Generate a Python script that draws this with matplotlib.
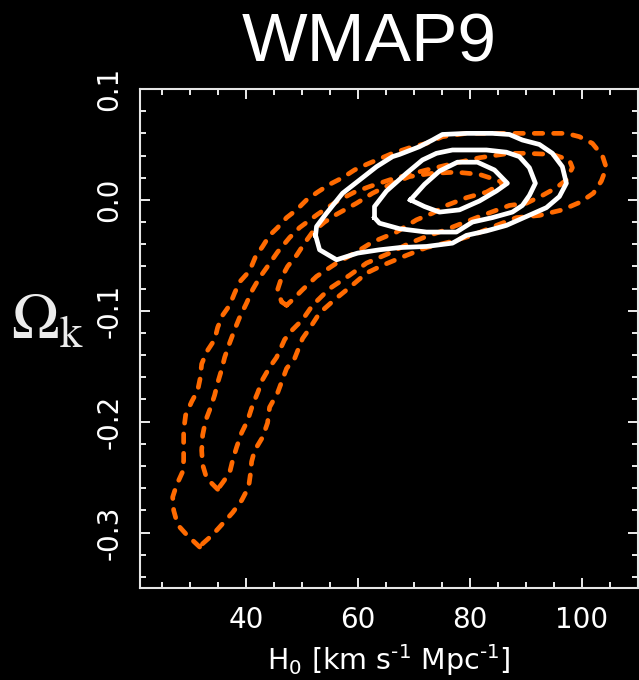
import numpy as np, matplotlib
matplotlib.use("Agg")
import matplotlib.pyplot as plt
from matplotlib.ticker import MultipleLocator

# contour outlines: (H0, Omega_k)
# orange (dashed), outer -> inner
o1_h=[31.66,29.34,27.73,27.02,26.84,27.55,28.63,28.80,28.80,28.80,29.16,30.23,31.30,31.75,32.02,32.91,34.34,34.88,35.77,37.02,
      37.91,38.80,40.59,41.66,42.91,44.16,45.59,47.20,48.98,50.77,52.73,54.88,57.20,59.34,61.48,63.80,66.13,69.16,72.20,75.05,
      79.30,83.98,88.80,93.63,97.20,99.52,101.84,103.63,104.34,103.45,102.02,99.70,96.48,92.37,88.27,84.70,80.41,76.30,72.20,68.63,
      64.34,61.48,58.45,55.77,53.09,51.30,50.05,48.63,47.20,45.59,44.16,43.80,42.91,41.48,40.95,40.77,40.41,39.16,37.55,35.77,33.98,32.20,31.66]
o1_k=[-0.313,-0.302,-0.293,-0.280,-0.268,-0.257,-0.245,-0.235,-0.219,-0.208,-0.194,-0.182,-0.172,-0.161,-0.148,-0.137,-0.126,-0.115,-0.104,-0.095,
      -0.084,-0.074,-0.064,-0.051,-0.042,-0.032,-0.025,-0.016,-0.009,0.000,0.007,0.014,0.020,0.027,0.032,0.037,0.042,0.047,0.051,0.057,
      0.060,0.060,0.060,0.060,0.060,0.057,0.051,0.040,0.029,0.017,0.006,-0.002,-0.009,-0.014,-0.016,-0.023,-0.032,-0.038,-0.043,-0.050,
      -0.059,-0.066,-0.079,-0.090,-0.102,-0.116,-0.125,-0.143,-0.152,-0.174,-0.187,-0.201,-0.214,-0.226,-0.236,-0.246,-0.259,-0.271,-0.282,-0.292,-0.302,-0.310,-0.313]
o2_h=[34.88,32.91,32.20,32.02,32.20,32.73,33.63,34.34,34.88,35.59,36.13,37.02,37.91,38.80,40.05,41.12,42.38,43.80,45.59,47.73,
      49.52,52.73,56.30,59.34,62.02,65.59,69.16,72.20,76.30,81.66,87.02,90.05,94.70,97.73,98.27,97.20,95.41,92.91,90.05,87.02,
      81.66,78.63,75.05,72.20,69.16,65.59,61.48,58.45,54.88,51.84,50.05,48.27,46.84,45.41,44.16,42.91,42.02,41.12,40.23,39.16,
      38.27,37.55,37.02,35.77,34.88]
o2_k=[-0.261,-0.251,-0.239,-0.226,-0.212,-0.199,-0.187,-0.176,-0.165,-0.153,-0.142,-0.129,-0.117,-0.106,-0.093,-0.081,-0.070,-0.060,-0.047,-0.034,
      -0.025,-0.013,-0.001,0.007,0.012,0.018,0.023,0.027,0.032,0.038,0.042,0.042,0.041,0.036,0.029,0.018,0.011,0.004,-0.003,-0.005,
      -0.015,-0.021,-0.028,-0.033,-0.039,-0.048,-0.057,-0.068,-0.080,-0.095,-0.108,-0.117,-0.126,-0.142,-0.151,-0.162,-0.174,-0.185,-0.199,-0.210,
      -0.223,-0.235,-0.246,-0.255,-0.261]
o3_h=[47.20,46.30,45.59,46.30,47.38,48.98,50.41,51.84,53.98,56.13,59.70,62.55,66.13,69.16,73.27,77.55,81.66,84.70,86.13,84.70,
      82.91,79.34,75.77,73.27,70.41,66.84,62.55,59.70,56.13,52.55,50.05,48.27,47.20]
o3_k=[-0.095,-0.092,-0.081,-0.070,-0.060,-0.050,-0.039,-0.029,-0.020,-0.013,-0.003,0.006,0.015,0.021,0.024,0.025,0.023,0.018,0.015,0.012,
      0.007,0.002,-0.005,-0.012,-0.018,-0.029,-0.038,-0.047,-0.057,-0.069,-0.081,-0.090,-0.095]
# white (solid), outer -> inner
w1_h=[52.38,53.09,56.13,59.88,63.80,67.38,72.20,76.84,79.34,82.91,86.48,90.05,93.63,95.95,97.20,96.48,94.70,92.37,89.34,87.02,
      83.98,79.34,75.05,73.27,70.95,67.38,66.13,63.29,60.25,57.20,54.34,52.55,52.38]
w1_k=[-0.032,-0.045,-0.054,-0.048,-0.045,-0.043,-0.042,-0.039,-0.032,-0.028,-0.023,-0.015,-0.007,0.003,0.015,0.030,0.042,0.050,0.054,0.059,
      0.060,0.060,0.059,0.054,0.048,0.041,0.039,0.030,0.018,0.006,-0.012,-0.024,-0.032]
w2_h=[62.91,63.80,67.38,72.20,77.55,80.41,83.98,87.55,89.34,90.59,91.66,90.59,88.80,86.48,82.91,76.84,73.98,71.48,68.63,65.05,62.91,62.91]
w2_k=[-0.016,-0.021,-0.026,-0.029,-0.029,-0.020,-0.016,-0.011,-0.005,0.004,0.015,0.029,0.039,0.043,0.045,0.045,0.042,0.036,0.024,0.008,-0.006,-0.016]
w3_h=[69.34,71.84,74.52,77.73,81.30,84.34,86.66,84.70,81.66,78.09,74.52,71.84,69.34]
w3_k=[0.000,0.014,0.026,0.034,0.034,0.027,0.015,0.008,-0.001,-0.009,-0.011,-0.006,0.000]

ORANGE="#ff6a00"
fig=plt.figure(figsize=(6.39,6.80),dpi=100,facecolor="black")
ax=fig.add_axes([140/639,92/680,498/639,499/680],facecolor="black")
for h,k in [(o1_h,o1_k),(o2_h,o2_k),(o3_h,o3_k)]:
    ax.plot(h,k,color=ORANGE,lw=3.4,ls=(0,(1.8,2.3)),dash_capstyle="round")
for h,k in [(w1_h,w1_k),(w2_h,w2_k),(w3_h,w3_k)]:
    ax.plot(h,k,color="white",lw=3.4,solid_joinstyle="round")
ax.set_xlim(21,110); ax.set_ylim(-0.35,0.1)
ax.set_xticks([40,60,80,100]); ax.set_yticks([-0.3,-0.2,-0.1,0.0,0.1])
ax.set_yticklabels(["-0.3","-0.2","-0.1","0.0","0.1"])
ax.xaxis.set_minor_locator(MultipleLocator(5)); ax.yaxis.set_minor_locator(MultipleLocator(0.02))
ax.tick_params(which="both",direction="in",top=True,right=True,color="white",width=1.3,labelcolor="white",labelsize=20)
ax.tick_params(which="major",length=7.5); ax.tick_params(which="minor",length=4.3)
ax.tick_params(axis="x",pad=13); ax.tick_params(axis="y",pad=12)
for lb in ax.get_yticklabels(): lb.set_rotation(90); lb.set_va("center")
for sp in ax.spines.values(): sp.set_color("#e6e6e6"); sp.set_linewidth(1.5)
ax.set_xlabel(r"H$_0$ [km s$^{\text{-1}}$ Mpc$^{\text{-1}}$]",color="white",fontsize=20.5,labelpad=6)
fig.text(48/639,1-322/680,r"$\Omega_\mathrm{k}$",color="#ececec",fontsize=46,math_fontfamily="stix",ha="center",va="center")
fig.text(369/639,1-61/680,"WMAP9",color="white",fontsize=50,family="Liberation Sans",ha="center",va="baseline")
fig.savefig("out.png",dpi=100,facecolor="black")
